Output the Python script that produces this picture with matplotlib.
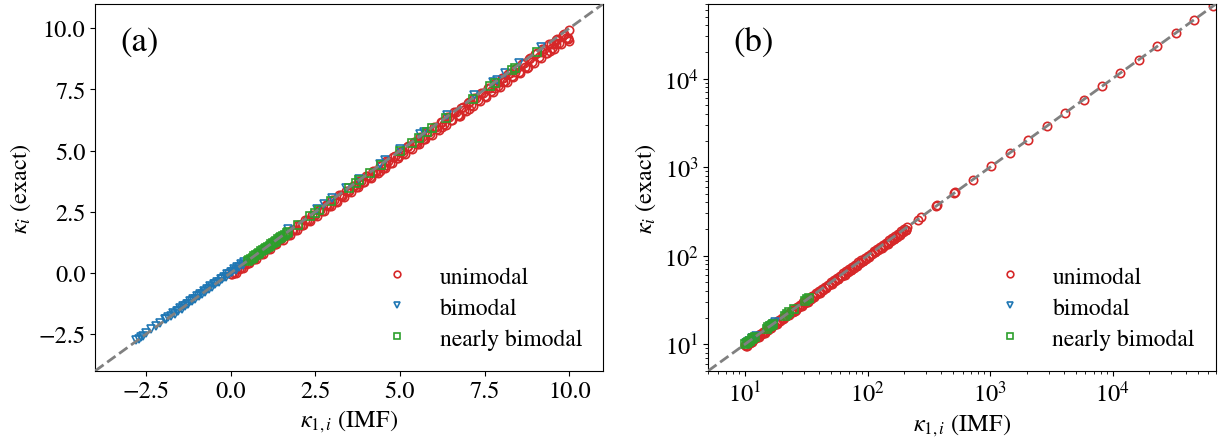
import matplotlib
matplotlib.use("Agg")
import matplotlib.pyplot as plt

plt.rcParams["font.family"] = ["STIXGeneral", "DejaVu Serif"]
plt.rcParams["mathtext.fontset"] = "stix"

# ---- panel (a): linear scale ----
uni_a_x = [0.0, 0.2, 0.4, 0.6, 0.8, 1.0, 1.2, 1.4, 1.6, 1.8, 2.0, 2.2, 2.4, 2.6, 2.8, 3.0, 3.2,
           3.4, 3.6, 3.8, 4.0, 4.2, 4.4, 4.6, 4.8, 5.0, 5.2, 5.4, 5.6, 5.8, 6.0, 6.2, 6.4, 6.6,
           6.8, 7.0, 7.2, 7.4, 7.6, 7.8, 8.0, 8.2, 8.4, 8.6, 8.8, 9.0, 9.2, 9.4, 9.6, 9.8, 10.0,
           0.1, 0.3, 0.5, 0.7, 0.9, 1.1, 1.3, 1.5, 1.7, 1.9, 2.1, 2.3, 2.5, 2.7, 2.9, 3.1, 3.3,
           3.5, 3.7, 3.9, 4.1, 4.3, 4.5, 4.7, 4.9, 5.1, 5.3, 5.5, 5.7, 5.9, 6.1, 6.3, 6.5, 6.7,
           6.9, 7.1, 7.3, 7.5, 7.7, 7.9, 8.1, 8.3, 8.5, 8.7, 8.9, 9.1, 9.3, 9.5, 9.7, 9.9,
           0.15, 0.35, 0.55, 0.75, 0.95, 1.15, 1.35, 1.55, 1.75, 1.95, 2.15, 2.35, 2.55, 2.75,
           2.95, 3.15, 3.35, 3.55, 3.75, 3.95, 4.15, 4.35, 4.55, 4.75, 4.95, 5.15, 5.35, 5.55,
           5.75, 5.95, 6.15, 6.35, 6.55, 6.75, 6.95, 7.15, 7.35, 7.55, 7.75, 7.95, 8.15, 8.35,
           8.55, 8.75, 8.95, 9.15, 9.35, 9.55, 9.75, 9.95,
           0.05, 0.25, 0.45, 0.65, 0.85, 1.05, 1.25, 1.45, 1.65, 1.85, 2.05, 2.25, 2.45, 2.65,
           2.85, 3.05, 3.25, 3.45, 3.65, 3.85, 4.05, 4.25, 4.45, 4.65, 4.85, 5.05, 5.25, 5.45,
           5.65, 5.85, 6.05, 6.25, 6.45, 6.65, 6.85, 7.05, 7.25, 7.45, 7.65, 7.85, 8.05, 8.25,
           8.45, 8.65, 8.85, 9.05, 9.25, 9.45, 9.65, 9.85,
           9.97, 10.0, 9.43, 9.6, 8.79, 8.4, 8.05, 7.81, 7.04, 6.78, 6.25, 5.68, 5.48, 4.98,
           4.41, 4.6, 3.8, 3.3, 2.9, 9.2, 9.55]
uni_a_y = [-0.03, 0.17, 0.37, 0.57, 0.77, 0.97, 1.17, 1.37, 1.57, 1.77, 1.97, 2.17, 2.37, 2.57,
           2.77, 2.97, 3.17, 3.37, 3.57, 3.77, 3.97, 4.17, 4.37, 4.57, 4.76, 4.96, 5.16, 5.36,
           5.56, 5.76, 5.96, 6.16, 6.36, 6.56, 6.75, 6.95, 7.15, 7.35, 7.55, 7.75, 7.95, 8.15,
           8.35, 8.55, 8.74, 8.94, 9.14, 9.34, 9.54, 9.74, 9.94,
           0.0, 0.19, 0.39, 0.59, 0.78, 0.98, 1.17, 1.37, 1.57, 1.76, 1.96, 2.15, 2.35, 2.55,
           2.74, 2.94, 3.13, 3.33, 3.53, 3.72, 3.92, 4.11, 4.31, 4.51, 4.70, 4.90, 5.09, 5.29,
           5.49, 5.68, 5.88, 6.07, 6.27, 6.47, 6.66, 6.86, 7.05, 7.25, 7.45, 7.64, 7.84, 8.03,
           8.23, 8.43, 8.62, 8.82, 9.01, 9.21, 9.41, 9.60,
           0.0, 0.19, 0.39, 0.58, 0.78, 0.97, 1.17, 1.36, 1.56, 1.75, 1.95, 2.14, 2.34, 2.53,
           2.73, 2.92, 3.12, 3.31, 3.51, 3.70, 3.90, 4.09, 4.29, 4.48, 4.68, 4.87, 5.07, 5.26,
           5.46, 5.65, 5.85, 6.04, 6.24, 6.43, 6.63, 6.82, 7.02, 7.21, 7.41, 7.60, 7.80, 7.99,
           8.19, 8.38, 8.58, 8.77, 8.97, 9.16, 9.36, 9.55,
           -0.03, 0.17, 0.37, 0.57, 0.77, 0.97, 1.17, 1.37, 1.57, 1.77, 1.97, 2.17, 2.37, 2.57,
           2.77, 2.97, 3.17, 3.37, 3.57, 3.77, 3.97, 4.17, 4.37, 4.57, 4.77, 4.97, 5.17, 5.37,
           5.57, 5.77, 5.97, 6.17, 6.37, 6.57, 6.77, 6.97, 7.17, 7.37, 7.57, 7.77, 7.97, 8.17,
           8.37, 8.57, 8.77, 8.97, 9.17, 9.37, 9.57, 9.77,
           9.61, 9.48, 9.08, 9.35, 8.43, 8.22, 7.80, 7.57, 6.71, 6.42, 5.97, 5.48, 5.32, 4.79,
           4.17, 4.42, 3.62, 3.15, 2.76, 9.05, 9.38]

bi_a_x = [-2.8, -2.65, -2.5, -2.35, -2.1, -1.95, -1.85, -1.7, -1.6, -1.5, -1.4, -1.3, -1.2,
          -1.1, -1.0, -0.9, -0.8, -0.7, -0.6, -0.5, -0.4, -0.3, -0.2, -0.1, 0.0, 0.1, 0.2,
          0.3, 0.4, 1.7, 2.55, 2.75, 3.0, 3.4, 3.8, 4.4, 4.55, 5.0, 5.6, 5.7, 6.4, 7.2, 7.75,
          7.85, 8.1, 8.5, 9.15,
          -2.72, -2.58, -2.2, -1.9, -1.75, -1.65, -1.55, -1.45, -1.35, -1.25, -1.15, -1.05,
          -0.95, -0.85, -0.75, -0.65, -0.55, -0.45, -0.35, -0.25, -0.15, -0.05, 0.05, 0.15,
          0.25, 0.35]
bi_a_y = [-2.76, -2.6, -2.45, -2.3, -2.05, -1.9, -1.8, -1.65, -1.55, -1.45, -1.35, -1.25,
          -1.15, -1.05, -0.95, -0.85, -0.75, -0.65, -0.55, -0.45, -0.35, -0.25, -0.15, -0.05,
          0.05, 0.15, 0.25, 0.35, 0.45, 1.78, 2.62, 2.8, 3.05, 3.47, 3.86, 4.46, 4.6, 5.05,
          5.67, 5.75, 6.46, 7.26, 7.82, 7.9, 8.16, 8.57, 9.22,
          -2.7, -2.56, -2.17, -1.9, -1.76, -1.66, -1.56, -1.46, -1.36, -1.26, -1.16, -1.06,
          -0.96, -0.86, -0.76, -0.66, -0.56, -0.46, -0.36, -0.26, -0.16, -0.06, 0.04, 0.14,
          0.24, 0.34]

nb_a_x = [0.5, 0.6, 0.7, 0.8, 0.9, 1.0, 1.05, 1.1, 1.15, 1.2, 1.25, 1.3, 1.4, 1.5, 1.6, 1.7,
          2.0, 2.35, 2.5, 2.6, 2.95, 3.5, 3.7, 3.8, 4.1, 4.45, 5.0, 5.35, 5.55, 5.8, 5.95,
          6.35, 7.15, 7.65, 7.8, 8.3, 8.4, 9.05,
          0.55, 0.65, 0.75, 0.85, 0.95, 1.35, 1.45, 1.55, 1.65]
nb_a_y = [0.5, 0.58, 0.68, 0.78, 0.88, 0.98, 1.02, 1.07, 1.12, 1.17, 1.22, 1.27, 1.37, 1.47,
          1.57, 1.67, 1.98, 2.33, 2.47, 2.58, 2.93, 3.48, 3.68, 3.78, 4.08, 4.43, 4.98, 5.33,
          5.53, 5.78, 5.93, 6.33, 7.13, 7.63, 7.78, 8.28, 8.38, 9.03,
          0.52, 0.62, 0.72, 0.82, 0.92, 1.32, 1.42, 1.52, 1.62]

# ---- panel (b): log scale ----
uni_b_x = [10, 10.6, 11.2, 11.9, 12.6, 13.3, 14.1, 15, 15.8, 16.8, 17.8, 18.8, 20, 21.1, 22.4,
           23.7, 25.1, 26.6, 28.2, 29.9, 31.6, 33.5, 35.5, 37.6, 39.8, 42.2, 44.7, 47.3, 50.1,
           53.1, 56.2, 59.6, 63.1, 66.8, 70.8, 75, 79.4, 84.1, 89.1, 94.4, 100, 106, 112, 119,
           126, 133, 141, 150, 158, 168, 178, 188, 200, 211,
           10.3, 11.5, 12.9, 14.5, 16.3, 18.3, 20.5, 23, 25.8, 29, 32.5, 36.5, 41, 46, 51.6,
           57.9, 65, 72.9, 81.8, 91.8, 103, 116, 130, 146, 164, 184, 206,
           10.15, 10.9, 11.6, 12.3, 13.0, 13.7, 14.6, 15.4, 16.3, 17.3, 18.3, 19.4, 20.6, 21.7,
           23.0, 24.4, 25.9, 27.4, 29.1, 30.8, 32.6, 34.5, 36.6, 38.8, 41.0, 43.5, 46.0, 48.7,
           51.6, 54.7, 57.9, 61.4, 65.0, 68.9, 73.0, 77.3, 81.9, 86.7, 91.9, 97.3, 103, 109,
           115.5, 122.5, 129.5, 137, 145.5, 154, 163, 173, 183, 194, 205,
           256, 271, 362, 372, 512, 522, 724, 1024, 1448, 2048, 2896, 4096, 5793, 8192, 11585,
           16384, 23170, 32768, 46341, 65536]
uni_b_y = [9.8, 10.4, 11.0, 11.7, 12.4, 13.1, 13.9, 14.8, 15.6, 16.6, 17.6, 18.6, 19.8, 20.9,
           22.2, 23.5, 24.9, 26.4, 28.0, 29.7, 31.4, 33.3, 35.3, 37.4, 39.6, 42.0, 44.5, 47.1,
           49.9, 52.9, 56.0, 59.4, 62.9, 66.6, 70.6, 74.8, 79.2, 83.9, 88.9, 94.2, 99.8, 105.8,
           111.8, 118.8, 125.8, 132.8, 140.8, 149.8, 157.8, 167.8, 177.8, 187.8, 199.8, 210.8,
           9.5, 10.6, 11.9, 13.4, 15.1, 17.0, 19.1, 21.4, 24.0, 27.0, 30.3, 34.1, 38.3, 43.0,
           48.3, 54.2, 60.9, 68.3, 76.7, 86.1, 96.6, 108.8, 122, 137, 154, 173, 194,
           9.64, 10.36, 11.02, 11.69, 12.35, 13.02, 13.87, 14.63, 15.49, 16.44, 17.39, 18.43,
           19.57, 20.62, 21.85, 23.18, 24.61, 26.03, 27.65, 29.26, 30.97, 32.78, 34.77, 36.86,
           38.95, 41.33, 43.70, 46.27, 49.02, 51.97, 55.01, 58.33, 61.75, 65.46, 69.35, 73.44,
           77.81, 82.37, 87.31, 92.44, 97.9, 103.6, 109.7, 116.4, 123.0, 130.2, 138.2, 146.3,
           154.9, 164.4, 173.9, 184.3, 194.8,
           255, 270, 360, 370, 510, 520, 722, 1021, 1445, 2044, 2891, 4090, 5785, 8182, 11572,
           16367, 23148, 32740, 46305, 65490]

bi_b_x = [10.2, 10.8, 11.5, 12.2, 16.0, 16.8, 17.5]
bi_b_y = [10.3, 10.9, 11.6, 12.3, 16.1, 16.9, 17.6]

nb_b_x = [10.0, 10.3, 10.6, 11.0, 11.3, 11.7, 12.0, 15.0, 15.5, 16.0, 16.5, 17.0, 21.0, 22.0,
          23.0, 25.0, 31.0, 32.0, 33.0]
nb_b_y = [10.0, 10.3, 10.6, 11.0, 11.3, 11.7, 12.0, 15.0, 15.5, 16.0, 16.5, 17.0, 21.0, 22.0,
          23.0, 25.0, 31.0, 32.0, 33.0]

labels = ["unimodal", "bimodal", "nearly bimodal"]
colors = ["tab:red", "tab:blue", "tab:green"]
markers = ["o", "v", "s"]


def draw_panel(ax, series, lims, tag, log=False):
    for (x, y), lab, c, m in zip(series, labels, colors, markers):
        ax.plot(x, y, ls="none", marker=m, markersize=6, mfc="none", mec=c, mew=1.2, label=lab)
    ax.plot(lims, lims, ls="--", color="gray", lw=2, zorder=5)
    if log:
        ax.set_xscale("log")
        ax.set_yscale("log")
    ax.set_xlim(lims)
    ax.set_ylim(lims)
    ax.set_xlabel(r"$\kappa_{1,i}$ (IMF)", fontsize=17.5)
    ax.set_ylabel(r"$\kappa_i$ (exact)", fontsize=17.5)
    ax.tick_params(axis="both", labelsize=17.5)
    ax.text(0.05, 0.94, tag, transform=ax.transAxes, fontsize=25, va="top")
    ax.legend(loc="lower right", frameon=False, fontsize=17, handlelength=1.0, markerscale=0.8,
              handletextpad=1.3, labelspacing=0.4, borderaxespad=0.5)


fig = plt.figure(figsize=(12.21, 4.39), dpi=100)
ax1 = fig.add_axes([0.078, 0.153, 0.416, 0.836])
ax2 = fig.add_axes([0.580, 0.153, 0.416, 0.836])

draw_panel(ax1, [(uni_a_x, uni_a_y), (bi_a_x, bi_a_y), (nb_a_x, nb_a_y)], [-4, 11], "(a)")
ax1.set_xticks([-2.5, 0.0, 2.5, 5.0, 7.5, 10.0])
ax1.set_yticks([-2.5, 0.0, 2.5, 5.0, 7.5, 10.0])
draw_panel(ax2, [(uni_b_x, uni_b_y), (bi_b_x, bi_b_y), (nb_b_x, nb_b_y)], [5, 7e4], "(b)", log=True)

fig.savefig("out.png", dpi=100)
